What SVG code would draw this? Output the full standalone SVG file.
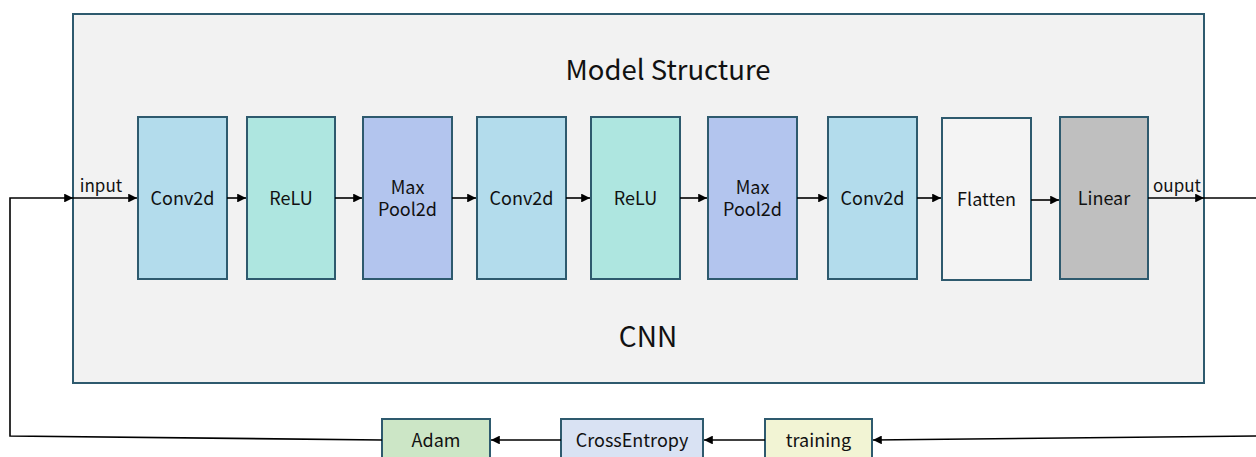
<svg xmlns="http://www.w3.org/2000/svg" width="1256" height="457" viewBox="0 0 1256 457">
<style>
text{font-family:"Noto Sans CJK SC","Open Sans","Liberation Sans",sans-serif;fill:#111;text-anchor:middle;dominant-baseline:central}
.b{stroke:#2E5A6E;stroke-width:2}
.conv{fill:#B3DCEC}.relu{fill:#AEE6E0}.pool{fill:#B3C5EE}.flat{fill:#F4F4F4}.lin{fill:#BFBFBF}
.lbl{font-size:18px}
.c{fill:none;stroke:#000;stroke-width:1.6}
</style>
<defs>
<marker id="ah" viewBox="0 0 10 10" refX="10" refY="5" markerWidth="5.5" markerHeight="5.5" orient="auto"><path d="M0,0 L10,5 L0,10 Z" fill="#000"/></marker>
</defs>
<rect width="1256" height="457" fill="#fff"/>
<g id="container">
<rect x="73" y="14" width="1131" height="369" fill="#F2F2F2" class="b"/>
<text x="668" y="67.5" style="font-size:27.5px">Model Structure</text>
<text x="648" y="334.5" style="font-size:28px">CNN</text>
</g>
<g id="conv1"><rect x="138" y="117" width="89" height="162" class="b conv"/><text class="lbl" x="182.5" y="196.5">Conv2d</text></g>
<g id="relu1"><rect x="247" y="117" width="88" height="162" class="b relu"/><text class="lbl" x="291" y="196.5">ReLU</text></g>
<g id="pool1"><rect x="363" y="117" width="89" height="162" class="b pool"/><text class="lbl" x="407.5" y="197"><tspan x="407.5" y="186">Max</tspan><tspan x="407.5" y="208">Pool2d</tspan></text></g>
<g id="conv2"><rect x="477" y="117" width="89" height="162" class="b conv"/><text class="lbl" x="521.5" y="196.5">Conv2d</text></g>
<g id="relu2"><rect x="591" y="117" width="89" height="162" class="b relu"/><text class="lbl" x="635.5" y="196.5">ReLU</text></g>
<g id="pool2"><rect x="708" y="117" width="89" height="162" class="b pool"/><text class="lbl" x="752.5" y="197"><tspan x="752.5" y="186">Max</tspan><tspan x="752.5" y="208">Pool2d</tspan></text></g>
<g id="conv3"><rect x="828" y="117" width="89" height="162" class="b conv"/><text class="lbl" x="872.5" y="196.5">Conv2d</text></g>
<g id="flatten"><rect x="942" y="118" width="89" height="162" class="b flat"/><text class="lbl" x="986.5" y="197.5">Flatten</text></g>
<g id="linear"><rect x="1060" y="117" width="88" height="162" class="b lin"/><text class="lbl" x="1104" y="196.5">Linear</text></g>
<g id="adam"><rect x="382" y="419" width="108" height="44" fill="#CCE6C6" class="b"/><text class="lbl" x="436" y="438.5">Adam</text></g>
<g id="crossentropy"><rect x="561" y="419" width="142" height="44" fill="#D9E2F3" class="b"/><text class="lbl" x="632" y="438.5">CrossEntropy</text></g>
<g id="training"><rect x="765" y="419" width="107" height="44" fill="#F2F4D4" class="b"/><text class="lbl" x="818.5" y="438.5">training</text></g>
<g id="connectors">
<path class="c" d="M382,440 L10,436 L10,198 L73,198" marker-end="url(#ah)"/>
<path class="c" d="M73,198 L137,198" marker-end="url(#ah)"/>
<text x="101" y="184.5" style="font-size:17px">input</text>
<path class="c" d="M227,198 L246,198" marker-end="url(#ah)"/>
<path class="c" d="M335,198 L362,198" marker-end="url(#ah)"/>
<path class="c" d="M452,198 L476,198" marker-end="url(#ah)"/>
<path class="c" d="M566,198 L590,198" marker-end="url(#ah)"/>
<path class="c" d="M680,198 L707,198" marker-end="url(#ah)"/>
<path class="c" d="M797,198 L827,198" marker-end="url(#ah)"/>
<path class="c" d="M917,198 L941,198" marker-end="url(#ah)"/>
<path class="c" d="M1031,200 L1059,200" marker-end="url(#ah)"/>
<path class="c" d="M1148,198 L1204,198" marker-end="url(#ah)"/>
<text x="1177" y="184.5" style="font-size:17px">ouput</text>
<path class="c" d="M1204,198 L1256,198"/>
<path class="c" d="M1256,436 L873,440" marker-end="url(#ah)"/>
<path class="c" d="M765,440 L704,440" marker-end="url(#ah)"/>
<path class="c" d="M561,440 L491,440" marker-end="url(#ah)"/>
</g>
</svg>
